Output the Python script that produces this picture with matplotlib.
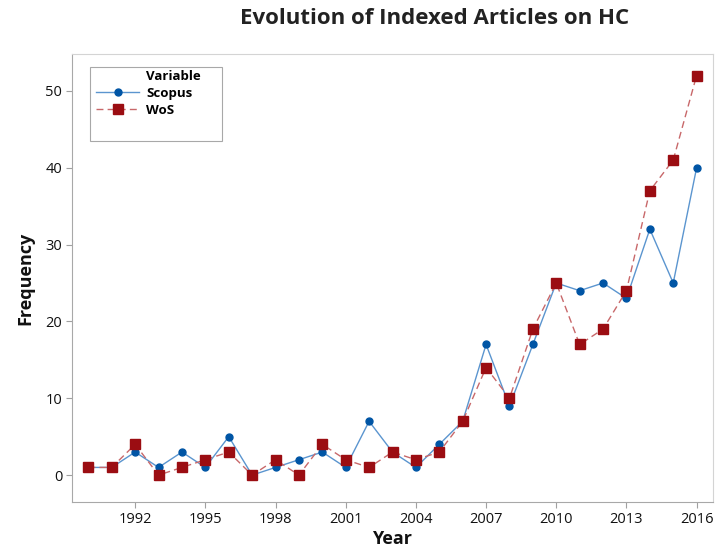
import matplotlib
matplotlib.use("Agg")
import matplotlib.pyplot as plt
from matplotlib.lines import Line2D
from matplotlib.patches import Rectangle

years = list(range(1990, 2017))
scopus = [1, 1, 3, 1, 3, 1, 5, 0, 1, 2, 3, 1, 7, 3, 1, 4, 7, 17, 9, 17, 25, 24, 25, 23, 32, 25, 40]
wos = [1, 1, 4, 0, 1, 2, 3, 0, 2, 0, 4, 2, 1, 3, 2, 3, 7, 14, 10, 19, 25, 17, 19, 24, 37, 41, 52]
xticks = [1992, 1995, 1998, 2001, 2004, 2007, 2010, 2013, 2016]
yticks = [0, 10, 20, 30, 40, 50]

plt.rcParams['font.family'] = ['Open Sans', 'DejaVu Sans']

W, H = 715, 547
fig = plt.figure(figsize=(W/100, H/100), dpi=100)
ax = fig.add_axes([72/W, 45/H, (713-72)/W, (502-54)/H])

ax.plot(years, scopus, color='#5b95cf', lw=1.0, zorder=2)
ax.plot(years, scopus, ls='none', marker='o', ms=5, color='#0055a5', zorder=3)
ax.plot(years, wos, color='#c8686a', lw=1.0, ls=(0, (5, 3)), zorder=2)
ax.plot(years, wos, ls='none', marker='s', ms=6.5, color='#9b0d12', zorder=4)

ax.set_xlim(1989.3, 2016.7)
ax.set_ylim(-3.5, 54.8)
ax.set_xticks(xticks)
ax.set_yticks(yticks)
ax.tick_params(axis='both', labelsize=10.5, color='#a0a0a0', length=4, pad=3, labelcolor='#111111')
for s in ['left', 'bottom']:
    ax.spines[s].set_color('#a8a8a8')
for s in ['top', 'right']:
    ax.spines[s].set_color('#d4d4d4')

ax.set_xlabel('Year', fontsize=13, fontweight='bold', labelpad=2, color='#111111')
ax.set_ylabel('Frequency', fontsize=13, fontweight='bold', labelpad=8, color='#111111')
fig.text(435/W, 1 - 19/H, 'Evolution of Indexed Articles on HC', ha='center', va='center',
         fontsize=16, fontweight='bold', color='#222222')

# legend frame
fig.patches.append(Rectangle((90/W, 1 - 141/H), (222-90)/W, (141-67)/H, transform=fig.transFigure,
                             facecolor='white', edgecolor='#a8a8a8', lw=0.8, zorder=5))

handles = [
    Line2D([], [], ls='none', label='Variable'),
    Line2D([], [], color='#5b95cf', lw=1.0, marker='o', ms=5, mfc='#0055a5', mec='#0055a5', label='Scopus'),
    Line2D([], [], color='#c8686a', lw=1.0, ls=(0, (5, 3)), marker='s', ms=6.5, mfc='#9b0d12', mec='#9b0d12', label='WoS'),
]
leg = fig.legend(handles=handles, loc='upper left', bbox_to_anchor=(92/W, 1 - 66/H),
                 bbox_transform=fig.transFigure, frameon=False,
                 prop={'weight': 'bold', 'size': 9.5}, handlelength=3.3, labelspacing=0.3,
                 borderpad=0.3, handletextpad=0.5, borderaxespad=0)
leg.set_zorder(6)

fig.savefig('out.png', dpi=100)
